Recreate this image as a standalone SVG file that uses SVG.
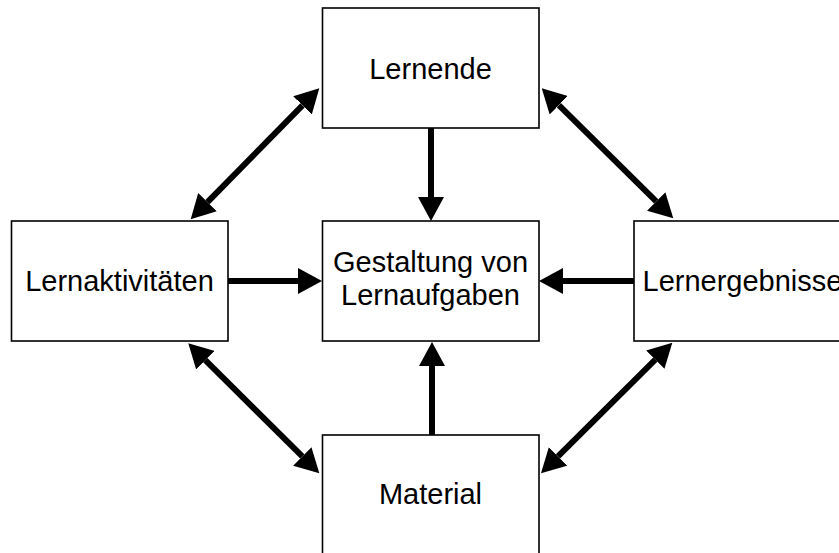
<svg xmlns="http://www.w3.org/2000/svg" width="839" height="553" viewBox="0 0 839 553">
  <style>
    .box { fill: #ffffff; stroke: #000000; stroke-width: 1.6; }
    .label { font-family: "Liberation Sans", Arial, sans-serif; font-size: 29px; fill: #000000; text-anchor: middle; }
    .link { stroke: #000000; stroke-width: 6; fill: none; }
  </style>
  <defs>
    <marker id="head" viewBox="0 0 24 26" refX="0" refY="13" markerWidth="24" markerHeight="26" markerUnits="userSpaceOnUse" orient="auto-start-reverse">
      <path d="M0,0 L24,13 L0,26 Z" fill="#000000"/>
    </marker>
  </defs>
  <rect width="839" height="553" fill="#ffffff"/>

  <g id="node-lernende">
    <rect class="box" x="322.5" y="8" width="216.5" height="120"/>
    <text class="label" x="430.5" y="79">Lernende</text>
  </g>
  <g id="node-gestaltung">
    <rect class="box" x="322.5" y="221" width="216.5" height="120"/>
    <text class="label" x="430.5" y="272">Gestaltung von</text>
    <text class="label" x="430.5" y="305">Lernaufgaben</text>
  </g>
  <g id="node-lernaktivitaeten">
    <rect class="box" x="11.5" y="221" width="216.5" height="120"/>
    <text class="label" x="119.5" y="291">Lernaktivitäten</text>
  </g>
  <g id="node-lernergebnisse">
    <rect class="box" x="634" y="221" width="216.5" height="120"/>
    <text class="label" x="742.5" y="291">Lernergebnisse</text>
  </g>
  <g id="node-material">
    <rect class="box" x="322.5" y="435" width="216.5" height="120"/>
    <text class="label" x="430.5" y="504">Material</text>
  </g>

  <g id="connectors">
    <line class="link" x1="431" y1="128" x2="431" y2="197" marker-end="url(#head)"/>
    <line class="link" x1="432" y1="435" x2="432" y2="366" marker-end="url(#head)"/>
    <line class="link" x1="228" y1="281" x2="298" y2="281" marker-end="url(#head)"/>
    <line class="link" x1="634" y1="281" x2="563" y2="281" marker-end="url(#head)"/>
    <line class="link" x1="207.5" y1="202.2" x2="302.5" y2="105.4" marker-start="url(#head)" marker-end="url(#head)"/>
    <line class="link" x1="558.8" y1="105.2" x2="656.2" y2="201.4" marker-start="url(#head)" marker-end="url(#head)"/>
    <line class="link" x1="205.3" y1="360.2" x2="302.3" y2="456.4" marker-start="url(#head)" marker-end="url(#head)"/>
    <line class="link" x1="558" y1="456.4" x2="655.3" y2="359.6" marker-start="url(#head)" marker-end="url(#head)"/>
  </g>
</svg>
